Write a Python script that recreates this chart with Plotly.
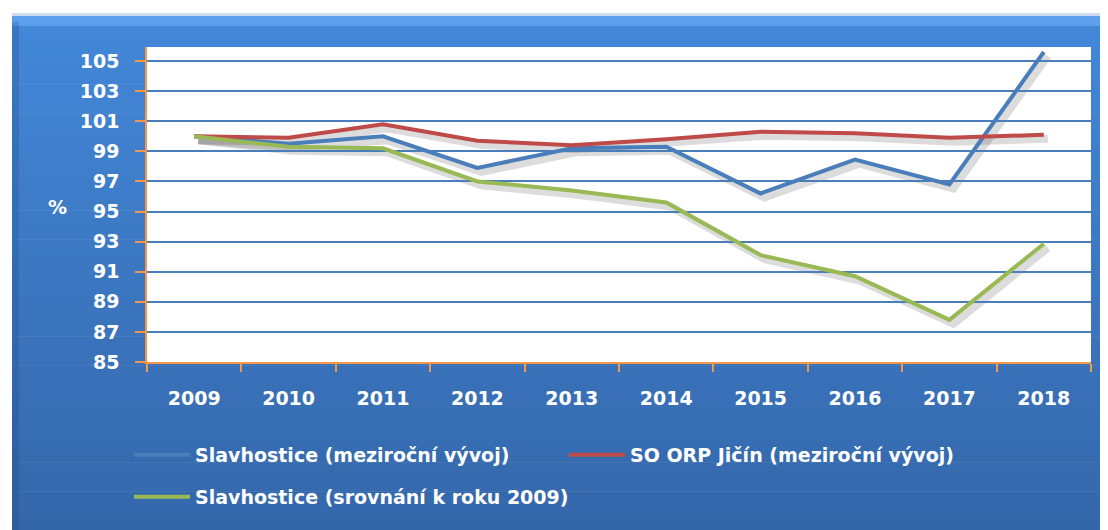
import plotly.graph_objects as go

years = ["2009", "2010", "2011", "2012", "2013", "2014", "2015", "2016", "2017", "2018"]
slav_mezi = [100.0, 99.5, 100.0, 97.9, 99.2, 99.3, 96.2, 98.45, 96.8, 105.6]
orp_mezi = [100.0, 99.9, 100.8, 99.7, 99.4, 99.8, 100.3, 100.2, 99.9, 100.1]
slav_srov = [100.0, 99.3, 99.2, 97.0, 96.4, 95.6, 92.1, 90.7, 87.8, 92.85]
y_ticks = [85, 87, 89, 91, 93, 95, 97, 99, 101, 103, 105]

names = ["Slavhostice (meziroční vývoj)", "SO ORP Jičín (meziroční vývoj)",
         "Slavhostice (srovnání k roku 2009)"]
colors = ["#4A7EBB", "#BE4B48", "#98B954"]
series = [slav_mezi, orp_mezi, slav_srov]
legends = ["legend", "legend", "legend2"]

# page body has an 8px margin, so the figure is 8px smaller than the window
BODY = 8
W, H = 1108 - BODY, 530 - BODY
OFF = 4
ML, MT = 147 - BODY, 47 - BODY
PW, PH = 944 + OFF, 315 + OFF
MR, MB = W - ML - PW, H - MT - PH


def px(x):  # screen x -> paper x
    return (x - BODY - ML) / PW


def py(y):  # screen y -> paper y
    return (H - MB - (y - BODY)) / PH


fig = go.Figure()

# soft shadows (subplot xy, shifted a few px right/down)
for s in series:
    fig.add_trace(go.Scatter(x=years, y=s, mode="lines", xaxis="x", yaxis="y",
                             line=dict(color="rgba(40,40,40,0.16)", width=8),
                             showlegend=False, hoverinfo="skip"))
# main lines (subplot x2y2)
for n, c, s, lg in zip(names, colors, series, legends):
    fig.add_trace(go.Scatter(x=years, y=s, name=n, mode="lines", xaxis="x2", yaxis="y2",
                             line=dict(color=c, width=4), legend=lg))

shapes = []
X0F = 12
RIGHT, BOTTOM = 1108, 530
top_c = (67, 135, 216)
bot_c = (52, 103, 170)
n = 52
ys = 26
for i in range(n):
    a = ys + (BOTTOM - ys) * i / n
    b = ys + (BOTTOM - ys) * (i + 1) / n + 0.6
    t = i / (n - 1)
    col = tuple(round(top_c[k] + (bot_c[k] - top_c[k]) * t) for k in range(3))
    shapes.append(dict(type="rect", xref="paper", yref="paper", x0=px(X0F), x1=px(RIGHT + 2),
                       y0=py(a), y1=py(min(b, BOTTOM + 2)),
                       fillcolor="rgb(%d,%d,%d)" % col, line=dict(width=0), layer="below"))
# bevel top strip
shapes.append(dict(type="rect", xref="paper", yref="paper", x0=px(X0F), x1=px(RIGHT + 2), y0=py(15), y1=py(26),
                   fillcolor="rgb(92,160,236)", line=dict(width=0), layer="below"))
shapes.append(dict(type="rect", xref="paper", yref="paper", x0=px(X0F), x1=px(RIGHT + 2), y0=py(13), y1=py(16),
                   fillcolor="rgb(205,220,238)", line=dict(width=0), layer="below"))
# left darker edge
shapes.append(dict(type="rect", xref="paper", yref="paper", x0=px(X0F), x1=px(X0F + 7), y0=py(22), y1=py(BOTTOM + 2),
                   fillcolor="rgba(30,60,110,0.22)", line=dict(width=0), layer="below"))
# white plot area
shapes.append(dict(type="rect", xref="paper", yref="paper", x0=px(147), x1=px(1091), y0=py(362), y1=py(47),
                   fillcolor="white", line=dict(width=0), layer="below"))

tickfont = dict(size=19, color="white", weight="bold")
legfont = dict(size=19, color="white", weight="bold")

fig.update_layout(
    width=W, height=H,
    margin=dict(l=ML, r=MR, t=MT, b=MB, pad=0),
    paper_bgcolor="white",
    plot_bgcolor="rgba(0,0,0,0)",
    shapes=shapes,
    font=dict(family="DejaVu Sans", color="white"),
    xaxis=dict(domain=[OFF / PW, 1], anchor="y", visible=False, type="category", range=[-0.5, 9.5]),
    yaxis=dict(domain=[0, 1 - OFF / PH], anchor="x", visible=False, range=[85, 105 + 14 / 15]),
    xaxis2=dict(domain=[0, 1 - OFF / PW], anchor="y2", type="category", range=[-0.5, 9.5],
                showgrid=False, showline=True, linecolor="#F79646", linewidth=1.5,
                ticks="outside", ticklen=8, tickwidth=1.5, tickcolor="#F79646", tickson="boundaries",
                tickfont=tickfont, ticklabelstandoff=18, zeroline=False),
    yaxis2=dict(domain=[OFF / PH, 1], anchor="x2", range=[85, 105 + 14 / 15], tickvals=y_ticks,
                showgrid=True, gridcolor="#4A7EBB", gridwidth=1.6,
                showline=True, linecolor="#F79646", linewidth=1.5,
                ticks="outside", ticklen=10, tickwidth=1.5, tickcolor="#F79646",
                tickfont=tickfont, ticklabelstandoff=12, zeroline=False),
    legend=dict(orientation="h", x=px(129), xanchor="left", y=py(455), yanchor="middle",
                bgcolor="rgba(0,0,0,0)", font=legfont,
                entrywidth=364, entrywidthmode="pixels", itemwidth=56),
    legend2=dict(orientation="h", x=px(129), xanchor="left", y=py(497), yanchor="middle",
                 bgcolor="rgba(0,0,0,0)", font=legfont, itemwidth=56),
    annotations=[dict(text="%", xref="paper", yref="paper", x=px(46), y=py(207), showarrow=False,
                      font=dict(size=19, color="white", weight="bold"))],
)

fig.write_html("out.html")
